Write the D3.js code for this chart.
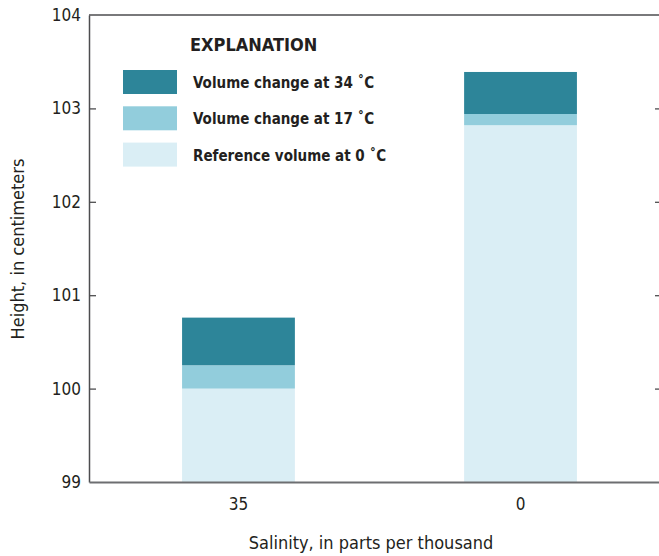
<!DOCTYPE html>
<html>
<head>
<meta charset="utf-8">
<script src="https://cdn.jsdelivr.net/npm/d3@7"></script>
<style>
  html, body { margin: 0; padding: 0; background: #fff; }
  svg { display: block; }
  text { font-family: "DejaVu Sans Condensed", "Liberation Sans Narrow", "Roboto", sans-serif; fill: #231f20; }
</style>
</head>
<body>
<svg id="chart" width="659" height="556"></svg>
<script>
// Salinity categories along the x axis
const salinity = ["35", "0"];
// Stack layers: reference volume at 0 °C, then the extra height at 17 °C and 34 °C
const referenceAt0 = [100.0, 102.82];
const heightAt17 = [100.25, 102.94];
const heightAt34 = [100.76, 103.39];
const yTicks = [99, 100, 101, 102, 103, 104];

const legendItems = [
  { label: "Volume change at 34 \u02daC", color: "#2d8599" },
  { label: "Volume change at 17 \u02daC", color: "#92cddc" },
  { label: "Reference volume at 0 \u02daC", color: "#daeef5" }
];

const svg = d3.select("#chart");
const margin = { left: 89, top: 15, right: 662, bottom: 482 };

const x = d3.scaleBand()
  .domain(salinity)
  .range([margin.left, 670])
  .paddingInner(0.6)
  .paddingOuter(0.33);

const y = d3.scaleLinear().domain([99, 104]).range([margin.bottom, margin.top]);

// Stacked segments, bottom to top
const segments = [];
salinity.forEach((s, i) => {
  segments.push({ s, y0: 99, y1: referenceAt0[i], color: legendItems[2].color });
  segments.push({ s, y0: referenceAt0[i], y1: heightAt17[i], color: legendItems[1].color });
  segments.push({ s, y0: heightAt17[i], y1: heightAt34[i], color: legendItems[0].color });
});

svg.append("g").selectAll("rect").data(segments).join("rect")
  .attr("x", d => x(d.s))
  .attr("width", x.bandwidth())
  .attr("y", d => y(d.y1))
  .attr("height", d => y(d.y0) - y(d.y1))
  .attr("fill", d => d.color);

// Frame: left axis, top line, right axis (inward ticks)
const axisColor = "#4d4d4f";
const left = svg.append("g").attr("transform", `translate(${margin.left},0)`)
  .call(d3.axisLeft(y).tickValues(yTicks).tickFormat(d3.format("d")).tickSizeInner(-7).tickSizeOuter(0).tickPadding(8));
left.select(".domain").attr("stroke", axisColor).attr("stroke-width", 1.5);
left.selectAll(".tick line").attr("stroke", axisColor).attr("stroke-width", 1.3);
left.selectAll(".tick").filter(d => d === 99 || d === 104).select("line").remove();
left.selectAll(".tick text").attr("font-size", 17).attr("fill", "#231f20");

const right = svg.append("g").attr("transform", `translate(${margin.right},0)`)
  .call(d3.axisRight(y).tickValues(yTicks.filter(d => d > 99 && d < 104)).tickSizeInner(-7).tickSizeOuter(0).tickFormat(""));
right.select(".domain").attr("stroke", axisColor).attr("stroke-width", 1.5);
right.selectAll(".tick line").attr("stroke", axisColor).attr("stroke-width", 1.3);

svg.append("line")
  .attr("x1", margin.left).attr("x2", margin.right)
  .attr("y1", y(104)).attr("y2", y(104))
  .attr("stroke", axisColor).attr("stroke-width", 1.5);

const bottom = svg.append("g").attr("transform", `translate(0,${margin.bottom})`)
  .call(d3.axisBottom(x).tickSize(0).tickPadding(16));
bottom.select(".domain").attr("stroke", "#6d6e71").attr("stroke-width", 2.2);
bottom.selectAll(".tick text").attr("font-size", 17).attr("fill", "#231f20");

// Axis titles
svg.append("text")
  .attr("x", 371).attr("y", 549)
  .attr("text-anchor", "middle")
  .attr("font-size", 18)
  .text("Salinity, in parts per thousand");

svg.append("text")
  .attr("transform", "translate(24,249) rotate(-90)")
  .attr("text-anchor", "middle")
  .attr("font-size", 18)
  .text("Height, in centimeters");

// Explanation (legend)
const lg = svg.append("g");
lg.append("text")
  .attr("x", 190).attr("y", 51)
  .attr("font-size", 18).attr("font-weight", "bold")
  .text("EXPLANATION");
const rows = lg.selectAll("g.row").data(legendItems).join("g")
  .attr("class", "row")
  .attr("transform", (d, i) => `translate(123,${70 + i * 36.3})`);
rows.append("rect").attr("width", 54).attr("height", 24).attr("fill", d => d.color);
rows.append("text")
  .attr("x", 70).attr("y", 18)
  .attr("font-size", 15).attr("font-weight", "bold")
  .text(d => d.label);
</script>
</body>
</html>
